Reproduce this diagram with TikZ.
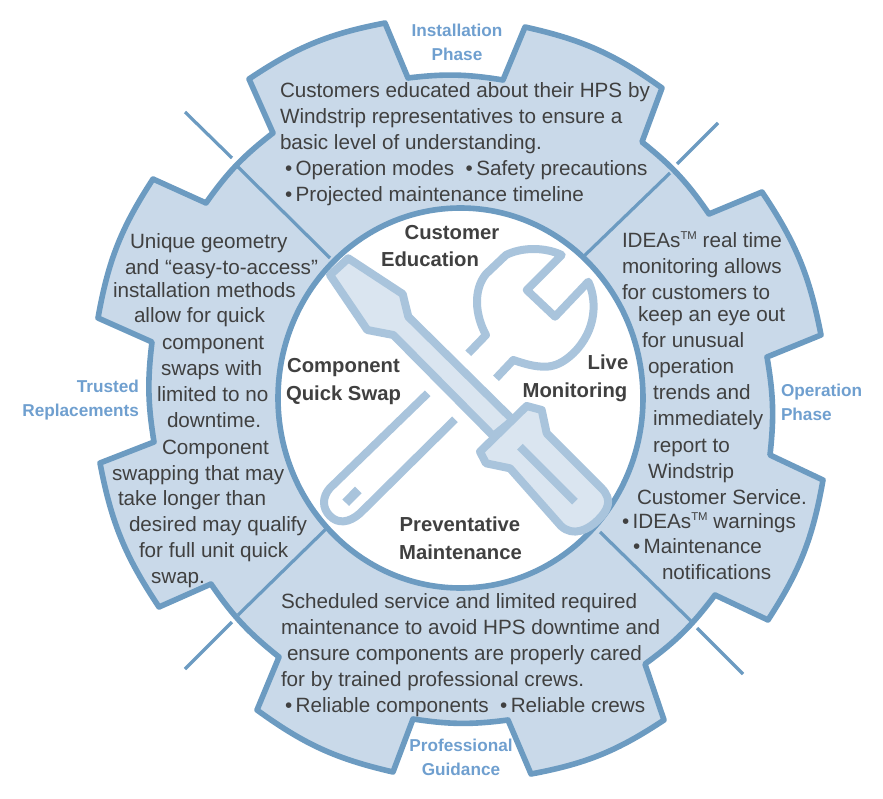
\documentclass[tikz,border=0pt]{standalone}
\usepackage{fontspec}
\setmainfont{Liberation Sans}
\usepackage{tikz}
\definecolor{gearfill}{HTML}{C9D9E9}
\definecolor{gearline}{HTML}{6C9BC1}
\definecolor{toolline}{HTML}{A9C4DC}
\definecolor{toolfill}{HTML}{DAE5F0}
\definecolor{phasetext}{HTML}{6F9FCF}
\definecolor{bodytext}{HTML}{404040}
\newcommand{\bul}{\textbullet\,}
\newcommand{\tmark}{\raisebox{0.75ex}{\fontsize{8.5}{9}\selectfont TM}}

\begin{document}
\begin{tikzpicture}[
      x=0.75pt, y=-0.75pt,
      every node/.style={inner sep=0pt, outer sep=0pt},
      gear/.style={draw=gearline, fill=gearfill, line width=4.2pt, line join=round},
      divider/.style={draw=gearline, line width=2.4pt},
      tool/.style={draw=toolline, line width=6pt, line join=round},
      body/.style={anchor=base west, text=bodytext, font=\fontsize{15.5}{18}\selectfont},
      title/.style={anchor=base, text=bodytext, font=\fontsize{15.2}{18}\selectfont\bfseries},
      phase/.style={text=phasetext, font=\fontsize{12.9}{18}\selectfont\bfseries}
          ]
        \useasboundingbox (0,0) rectangle (883,799);

        % Gear outline
        \draw [gear] (385,23) -- (408,78) to[bend left=8] (503,80) -- (525,27)
            to[bend left=11.5] (662,88) -- (642,142) to[bend left=8.5] (709,214)
            -- (762,192) to[bend left=11.5] (821,335) -- (767,357) to[bend left=8] (770,455)
            -- (823,480) to[bend left=11.5] (768,620) -- (715,595) to[bend left=8.5] (645,664)
            -- (664,720) to[bend left=11.5] (531,774) -- (508,720) to[bend left=8] (413,719)
            -- (393,772) to[bend left=11.5] (257,710) -- (279,657) to[bend left=8.5] (211,584)
            -- (159,607) to[bend left=11.5] (100,463) -- (154,442) to[bend left=8] (152,342)
            -- (98,318) to[bend left=11.5] (153,179) -- (206,203) to[bend left=8.5] (273,133)
            -- (249,79) to[bend left=11.5] cycle;

        % Sector dividers
        \draw [divider] (238,167) -- (330,258);
        \draw [divider] (670,173) -- (582,258);
        \draw [divider] (692,622) -- (600,532);
        \draw [divider] (238,615) -- (327,528);

        % Ticks outside the gear
        \draw [divider] (185,112) -- (232,158);
        \draw [divider] (718,123) -- (677,164);
        \draw [divider] (697,628) -- (743,674);
        \draw [divider] (232,622) -- (185,669);

        % Inner disc
        \draw [draw=gearline, fill=white, line width=4.2pt] (460.5,398) ellipse [x radius=182.5, y radius=190];

        % Wrench
        \draw [tool] (468.3,353.3) -- (486,335) .. controls (475,315) and (473,290) .. (486,274) -- (506,255)
            .. controls (522,247) and (545,247) .. (561.7,255) -- (526.7,290) -- (555,316.7) -- (588.3,281.7)
            .. controls (597,300) and (597,330) .. (573.3,353.3) .. controls (563,363) and (555,366) .. (546.7,366.7)
            .. controls (535,367) and (525,364) .. (513.3,360) -- (496,378.3);
        \draw [tool] (427.7,393.3) -- (330,488) .. controls (322,497) and (322,508) .. (330,516)
            .. controls (338,524) and (349,523) .. (360,513.3) -- (455,419.3);
        \draw [tool, line width=7pt] (358.3,490) -- (345.7,502.7);

        % Screwdriver
        \draw [tool, fill=toolfill] (348.3,258.3) -- (402.7,294) -- (408.3,316.7) -- (513,420) -- (493.3,436)
            -- (393.3,335) -- (367.3,330) -- (330,275) -- cycle;
        \draw [tool, fill=toolfill] (480,451.7) -- (526.7,406) -- (541.7,410) -- (546.7,433.3) -- (601.7,488.3)
            .. controls (613,500) and (608,510) .. (598,520) .. controls (588,530) and (573,537) .. (561,526)
            -- (510,468.3) -- (486,463.3) -- cycle;
        \draw [tool] (520,446.7) -- (575,501.7);

        % Titles in the disc
        \foreach \x/\y/\txt [count=\i] in {452/239/Customer, 430/267/Education, 343.5/372/Component, 343.5/400/Quick Swap,
            608/369/Live, 575/397/Monitoring, 460/531/Preventative, 460.5/559/Maintenance}
          \node (title\i) [title] at (\x,\y) {\txt};

        % Phase labels
        \node (installation) [phase, align=center] at (457,42) {Installation\\Phase};
        \node (operation) [phase, align=left, anchor=west] at (781,402) {Operation\\Phase};
        \node (trusted) [phase, align=right, anchor=east] at (139,400) {Trusted\\Replacements};
        \node (professional) [phase, align=center] at (461,757) {Professional\\Guidance};

        % Top sector text
        \foreach \x/\y/\txt [count=\i] in {280/97.7/Customers educated about their HPS by,
            280/123.7/Windstrip representatives to ensure a, 280/149.5/basic level of understanding.,
            285/175.7/\bul Operation modes\ \ \bul Safety precautions, 285/201.7/\bul Projected maintenance timeline}
          \node (top\i) [body] at (\x,\y) {\txt};

        % Left sector text
        \foreach \x/\y/\txt [count=\i] in {130/248/Unique geometry, 125/274/and “easy-to-access”, 113/297/installation methods,
            134/322.7/allow for quick, 162/349/component, 161/375/swaps with, 157/401/limited to no, 167/427.7/downtime.,
            162/454/Component, 112/480/swapping that may, 118/505.7/take longer than, 129/531.7/desired may qualify,
            139/557.7/for full unit quick, 151/583/swap.}
          \node (left\i) [body] at (\x,\y) {\txt};

        % Right sector text
        \foreach \x/\y/\txt [count=\i] in {622/247.7/IDEAs\tmark\ real time, 622/273/monitoring allows, 622/299/for customers to,
            638/321.7/keep an eye out, 642/347.7/for unusual, 648/373.7/operation, 653/399/trends and, 653/425.7/immediately,
            653/452/report to, 648/478/Windstrip, 637/504/Customer Service., 622/528.7/\bul IDEAs\tmark\ warnings,
            633/553/\bul Maintenance, 662/579/notifications}
          \node (right\i) [body] at (\x,\y) {\txt};

        % Bottom sector text
        \foreach \x/\y/\txt [count=\i] in {281/608/Scheduled service and limited required, 281/634/maintenance to avoid HPS downtime and,
            287/660.7/ensure components are properly cared, 281/686.7/for by trained professional crews.,
            285/712.7/\bul Reliable components\ \ \bul Reliable crews}
          \node (bottom\i) [body] at (\x,\y) {\txt};

          \end{tikzpicture}
\end{document}
